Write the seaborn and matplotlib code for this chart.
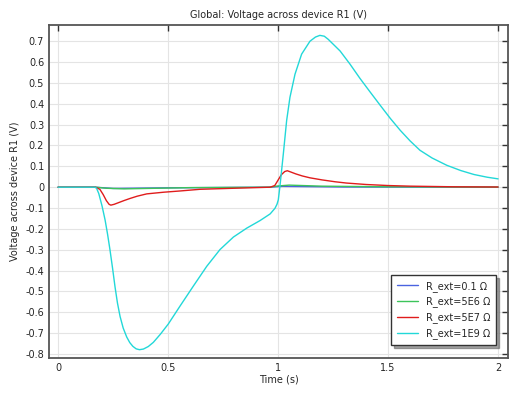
import pandas as pd
import seaborn as sns
import matplotlib.pyplot as plt
from matplotlib.ticker import FuncFormatter

# values (time in s, voltage in V)
t_blue = [0, 0.17, 0.25, 0.5, 0.96, 1.02, 1.3, 2.0]
v_blue = [0, 0, -0.006, -0.003, 0, 0.004, 0.001, 0]

t_green = [0, 0.17, 0.22, 0.3, 0.45, 0.6, 0.96, 1.0, 1.05, 1.2, 1.5, 2.0]
v_green = [0, 0, -0.005, -0.008, -0.005, -0.002, 0, 0.006, 0.01, 0.005, 0.002, 0.0005]

t_red = [0, 0.17, 0.19, 0.205, 0.22, 0.232, 0.24, 0.255, 0.28, 0.3, 0.327, 0.36,
         0.403, 0.48, 0.555, 0.645, 0.8, 0.964, 0.985, 1.0, 1.015, 1.03, 1.042,
         1.06, 1.08, 1.11, 1.145, 1.2, 1.26, 1.31, 1.4, 1.5, 1.6, 1.8, 2.0]
v_red = [0, 0, -0.01, -0.035, -0.065, -0.082, -0.086, -0.082, -0.072, -0.064, -0.054, -0.043,
         -0.032, -0.024, -0.018, -0.01, -0.005, 0, 0.008, 0.034, 0.06, 0.075, 0.079,
         0.072, 0.064, 0.054, 0.045, 0.035, 0.026, 0.02, 0.013, 0.008, 0.005, 0.002, 0.001]

t_cyan = [0, 0.1, 0.168, 0.175, 0.185, 0.2, 0.214, 0.225, 0.236, 0.248, 0.259, 0.27,
          0.282, 0.296, 0.312, 0.326, 0.34, 0.355, 0.37, 0.388, 0.41, 0.433, 0.465,
          0.501, 0.555, 0.615, 0.676, 0.736, 0.797, 0.858, 0.918, 0.964, 0.986, 0.995,
          1.001, 1.008, 1.016, 1.024, 1.039, 1.054, 1.077, 1.107, 1.145, 1.17, 1.19,
          1.21, 1.228, 1.282, 1.327, 1.372, 1.418, 1.464, 1.51, 1.555, 1.6, 1.645,
          1.7, 1.767, 1.83, 1.89, 1.95, 2.0]
v_cyan = [0, 0, 0, -0.005, -0.03, -0.09, -0.158, -0.225, -0.30, -0.39, -0.478, -0.555,
          -0.62, -0.675, -0.718, -0.745, -0.763, -0.775, -0.779, -0.776, -0.764, -0.744, -0.705,
          -0.656, -0.569, -0.474, -0.379, -0.299, -0.239, -0.196, -0.16, -0.128, -0.101, -0.082,
          -0.061, 0.0, 0.08, 0.161, 0.32, 0.431, 0.542, 0.638, 0.70, 0.72, 0.728,
          0.724, 0.709, 0.653, 0.59, 0.522, 0.457, 0.393, 0.33, 0.273, 0.222, 0.177,
          0.14, 0.105, 0.08, 0.061, 0.048, 0.04]

labels = ["R_ext=0.1 Ω", "R_ext=5E6 Ω", "R_ext=5E7 Ω", "R_ext=1E9 Ω"]
colors = ["#4a63e0", "#3cc45a", "#e01c1c", "#22d8d8"]

frames = []
for lab, t, v in zip(labels, [t_blue, t_green, t_red, t_cyan], [v_blue, v_green, v_red, v_cyan]):
    frames.append(pd.DataFrame({"Time": t, "V": v, "case": lab}))
df = pd.concat(frames, ignore_index=True)

sns.set_style("white")
plt.rcParams["font.family"] = ["DejaVu Sans"]
plt.rcParams["axes.unicode_minus"] = False

fig = plt.figure(figsize=(5.16, 3.93), dpi=100)
ax = fig.add_axes([0.095, 0.089, 0.8895, 0.847])

sns.lineplot(data=df, x="Time", y="V", hue="case", palette=colors, sort=False,
             estimator=None, linewidth=1.0, ax=ax)

ax.set_xlim(-0.041, 2.045)
ax.set_ylim(-0.819, 0.777)
ax.set_xticks([0, 0.5, 1, 1.5, 2])
ax.set_yticks([round(-0.8 + 0.1 * i, 1) for i in range(16)])
fmt = FuncFormatter(lambda v, p: "%g" % round(v, 2))
ax.xaxis.set_major_formatter(fmt)
ax.yaxis.set_major_formatter(fmt)
ax.grid(True, color="#e4e4e4", linewidth=0.8)
ax.tick_params(direction="in", top=True, right=True, length=4, width=1,
               labelsize=7, color="#333333")
for s in ax.spines.values():
    s.set_color("#555555")
    s.set_linewidth(1.3)

ax.set_title("Global: Voltage across device R1 (V)", fontsize=7, pad=5)
ax.set_xlabel("Time (s)", fontsize=7, labelpad=1)
ax.set_ylabel("Voltage across device R1 (V)", fontsize=7, labelpad=4)

leg = ax.legend(loc="lower right", fontsize=7, fancybox=False, shadow=True,
                edgecolor="#333333", framealpha=1, borderpad=0.6,
                bbox_to_anchor=(0.985, 0.025), handlelength=2.2)
leg.get_frame().set_linewidth(1.0)

fig.savefig("out.png", dpi=100)
